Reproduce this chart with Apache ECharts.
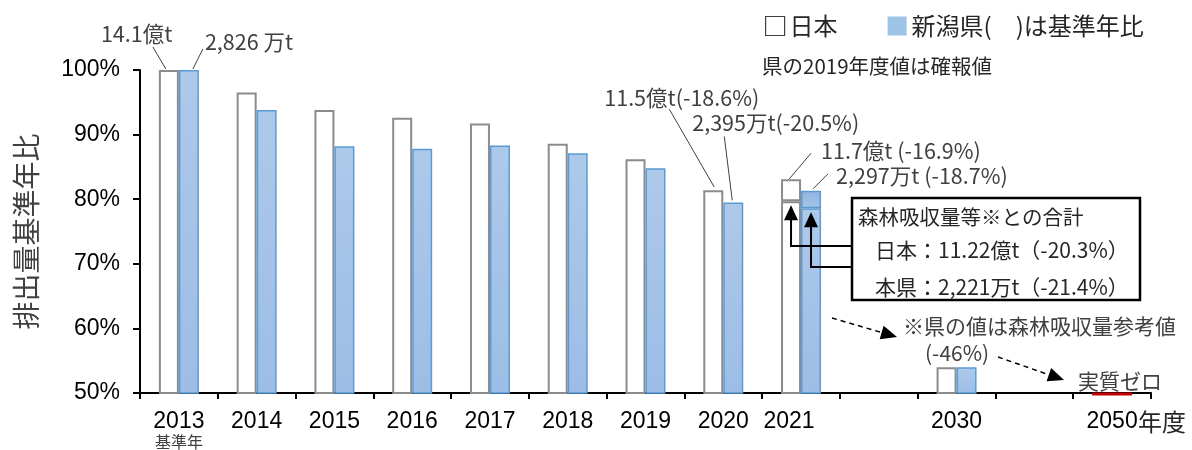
<!DOCTYPE html>
<html>
<head>
<meta charset="utf-8">
<script src="https://cdn.jsdelivr.net/npm/echarts@6/dist/echarts.min.js"></script>
<style>
html, body { margin: 0; padding: 0; background: #fff; }
#main { width: 1192px; height: 450px; }
</style>
</head>
<body>
<div id="main"></div>
<script>
// 年度(空欄は間隔用)
const years = ['2013', '2014', '2015', '2016', '2017', '2018', '2019', '2020', '2021', '', '2030', '', '2050'];
// 基準年比(%)
const japanRatio = [100, 96.5, 93.8, 92.6, 91.7, 88.6, 86.2, 81.4, 83.1, null, 54, null, null];
const niigataRatio = [100, 93.8, 88.2, 87.8, 88.3, 87.1, 84.8, 79.5, 81.3, null, 54, null, null];
// 森林吸収量等との合計
const japanNetRatio = [null, null, null, null, null, null, null, null, 79.7, null, null, null, null];
const niigataNetRatio = [null, null, null, null, null, null, null, null, 78.6, null, null, null, null];
// 実質ゼロ
const netZeroRatio = [null, null, null, null, null, null, null, null, null, null, null, null, 0];
// y軸
const yMin = 50, yMax = 100, yStep = 10;

// 吹き出し
const calloutYear = [0, 0, 7, 7, 8, 8];
const calloutSide = ['jp', 'nt', 'jp', 'nt', 'jp', 'nt'];
const calloutText = ['14.1億t', '2,826 万t', '11.5億t(-18.6%)', '2,395万t(-20.5%)', '11.7億t (-16.9%)', '2,297万t (-18.7%)'];

const JP = '"Noto Sans CJK JP", sans-serif';
const EN = '"Liberation Sans", Arial, sans-serif';
const BAR_W = 20;

// 吹き出しの位置(棒の上端中央からのずれ)
const calloutLayout = [
    { tx: -68, ty: -36, sx: -16, sy: -23, ex: -3, ey: -1 },
    { tx: 16, ty: -28, sx: 14, sy: -21, ex: 4, ey: -1 },
    { tx: -109, ty: -92, sx: -44, sy: -81, ex: 1, ey: -3 },
    { tx: -41, ty: -80, sx: -9, sy: -66, ex: -1, ey: -2 },
    { tx: 30, ty: -28, sx: 20, sy: -26, ex: -2, ey: 0 },
    { tx: 25, ty: -15, sx: 17, sy: -17, ex: 2, ey: -2 }
];
const BOX = { x: 852, y: 198, w: 288, h: 102 };
const arrowRowY = [246, 267];

// 2021は森林吸収分で棒を分割
const jpBase = japanRatio.map((v, i) => japanNetRatio[i] != null ? japanNetRatio[i] : v);
const jpTop = japanRatio.map((v, i) => japanNetRatio[i] != null ? +(v - japanNetRatio[i]).toFixed(1) : null);
const ntBase = niigataRatio.map((v, i) => niigataNetRatio[i] != null ? niigataNetRatio[i] : v);
const ntTop = niigataRatio.map((v, i) => niigataNetRatio[i] != null ? +(v - niigataNetRatio[i]).toFixed(1) : null);

const blueFill = new echarts.graphic.LinearGradient(0, 0, 0, 1, [
    { offset: 0, color: '#adc9ea' }, { offset: 1, color: '#9dbde6' }
]);
const blueTopFill = new echarts.graphic.LinearGradient(0, 0, 0, 1, [
    { offset: 0, color: '#8fb3e1' }, { offset: 1, color: '#a6c4e8' }
]);
const jpStyle = { color: '#fff', borderColor: '#8c8c8c', borderWidth: 2 };
const ntStyle = { color: blueFill, borderColor: '#5b9bd5', borderWidth: 1.5 };

function arrowHead(x1, y1, x2, y2, len, half) {
    const d = Math.hypot(x2 - x1, y2 - y1);
    const ux = (x2 - x1) / d, uy = (y2 - y1) / d;
    const bx = x2 - ux * len, by = y2 - uy * len;
    return [[x2, y2], [bx - uy * half, by + ux * half], [bx + uy * half, by - ux * half]];
}

function dashedArrow(x1, y1, x2, y2) {
    const d = Math.hypot(x2 - x1, y2 - y1);
    const ex = x2 - (x2 - x1) / d * 12, ey = y2 - (y2 - y1) / d * 12;
    return [
        { type: 'line', shape: { x1: x1, y1: y1, x2: ex, y2: ey }, style: { stroke: '#000', lineWidth: 1.5, lineDash: [5, 4] } },
        { type: 'polygon', shape: { points: arrowHead(x1, y1, x2, y2, 16, 7) }, style: { fill: '#000' } }
    ];
}

function renderCallout(params, api) { // 棒の上から吹き出し
    const i = api.value(2);
    const side = calloutSide[i] === 'jp' ? -1 : 1;
    const p = api.coord([api.value(0), api.value(1)]);
    const bx = p[0] + side * BAR_W / 2, by = p[1];
    const L = calloutLayout[i];
    return {
        type: 'group',
        children: [
            { type: 'line', shape: { x1: bx + L.sx, y1: by + L.sy, x2: bx + L.ex, y2: by + L.ey }, style: { stroke: '#404040', lineWidth: 1 } },
            { type: 'text', style: { text: calloutText[i], x: bx + L.tx, y: by + L.ty, fill: '#404040', font: '21.5px ' + JP, verticalAlign: 'middle' } }
        ]
    };
}

function renderArrow(params, api) { // 合計の枠から矢印
    const k = api.value(2);
    const side = k === 0 ? -1 : 1;
    const p = api.coord([api.value(0), api.value(1)]);
    const bx = p[0] + side * BAR_W / 2;
    const tip = p[1] + 4;
    const rowY = arrowRowY[k];
    return {
        type: 'group',
        children: [
            { type: 'polyline', shape: { points: [[BOX.x, rowY], [bx, rowY], [bx, tip + 12]] }, style: { stroke: '#000', lineWidth: 2, fill: null } },
            { type: 'polygon', shape: { points: [[bx, tip], [bx - 7, tip + 15], [bx + 7, tip + 15]] }, style: { fill: '#000' } }
        ]
    };
}

function renderZero(params, api) { // 実質ゼロの赤線
    const p = api.coord([api.value(0), yMin]);
    return { type: 'line', shape: { x1: p[0] - BAR_W, y1: p[1] + 1, x2: p[0] + BAR_W, y2: p[1] + 1 }, style: { stroke: '#c00000', lineWidth: 3 } };
}

const calloutData = calloutYear.map((c, i) => [c, (calloutSide[i] === 'jp' ? japanRatio : niigataRatio)[c], i]);
const arrowData = [];
japanNetRatio.forEach((v, i) => { if (v != null) arrowData.push([i, v, 0]); });
niigataNetRatio.forEach((v, i) => { if (v != null) arrowData.push([i, v, 1]); });
const zeroData = [];
netZeroRatio.forEach((v, i) => { if (v != null) zeroData.push([i, v]); });

const chart = echarts.init(document.getElementById('main'));

chart.setOption({
    animation: false,
    grid: { left: 140, right: 41, top: 70, bottom: 55 },
    legend: {
        left: 760,
        top: 9,
        icon: 'rect',
        itemWidth: 19,
        itemHeight: 19,
        itemGap: 50,
        selectedMode: false,
        textStyle: { fontFamily: JP, fontSize: 24, color: '#262626' },
        data: [
            { name: '日本', itemStyle: { color: '#fff', borderColor: '#404040', borderWidth: 1.2 } },
            { name: '新潟県(\u3000)は基準年比', itemStyle: { color: '#9dc3e6', borderWidth: 0 } }
        ]
    },
    xAxis: {
        type: 'category',
        data: years.map(y => y === '2021' ? { value: y, textStyle: { padding: [0, 24, 0, 0] } } : y),
        axisLine: { lineStyle: { color: '#000', width: 2 } },
        axisTick: { show: true, interval: 0, length: 6, lineStyle: { color: '#000', width: 2 } },
        axisLabel: {
            interval: 0,
            margin: 17,
            color: '#000',
            fontFamily: EN,
            fontSize: 23,
            formatter: v => v === '2013' ? '2013\n{s|基準年}' : v,
            rich: { s: { fontFamily: JP, fontSize: 16, lineHeight: 18, color: '#404040' } }
        },
        splitLine: { show: false }
    },
    yAxis: {
        type: 'value',
        min: yMin,
        max: yMax,
        interval: yStep,
        axisLine: { show: true, lineStyle: { color: '#000', width: 2 } },
        axisTick: { show: true, length: 7, lineStyle: { color: '#000', width: 2 } },
        axisLabel: { margin: 20, color: '#000', fontFamily: EN, fontSize: 23, formatter: '{value}%' },
        splitLine: { show: false },
        name: '排出量基準年比',
        nameLocation: 'middle',
        nameGap: 100,
        nameRotate: 90,
        nameTextStyle: { fontFamily: JP, fontSize: 28, color: '#404040' }
    },
    series: [
        { name: '日本', type: 'bar', stack: 'jp', barWidth: BAR_W, barGap: '0%', data: jpBase, itemStyle: jpStyle },
        { name: '日本', type: 'bar', stack: 'jp', barWidth: BAR_W, barGap: '0%', data: jpTop, itemStyle: jpStyle },
        { name: '新潟県(\u3000)は基準年比', type: 'bar', stack: 'nt', barWidth: BAR_W, barGap: '0%', data: ntBase, itemStyle: ntStyle },
        { name: '新潟県(\u3000)は基準年比', type: 'bar', stack: 'nt', barWidth: BAR_W, barGap: '0%', data: ntTop, itemStyle: { color: blueTopFill, borderColor: '#5b9bd5', borderWidth: 1.5 } },
        { type: 'custom', renderItem: renderCallout, data: calloutData, z: 5, silent: true },
        { type: 'custom', renderItem: renderArrow, data: arrowData, z: 6, silent: true },
        { type: 'custom', renderItem: renderZero, data: zeroData, z: 6, silent: true, clip: false }
    ],
    graphic: [
        { type: 'text', x: 762, y: 66, style: { text: '県の2019年度値は確報値', font: '20.5px ' + JP, fill: '#262626', verticalAlign: 'middle' } },
        { type: 'rect', shape: { x: BOX.x, y: BOX.y, width: BOX.w, height: BOX.h }, style: { fill: '#fff', stroke: '#000', lineWidth: 2.5 }, z: 4 },
        { type: 'text', x: 858, y: 217, style: { text: '森林吸収量等※との合計', font: '20.5px ' + JP, fill: '#262626', verticalAlign: 'middle' }, z: 5 },
        { type: 'text', x: 875, y: 250, style: { text: '日本：11.22億t（-20.3%）', font: '21px ' + JP, fill: '#262626', verticalAlign: 'middle' }, z: 5 },
        { type: 'text', x: 875, y: 287, style: { text: '本県：2,221万t（-21.4%）', font: '21px ' + JP, fill: '#262626', verticalAlign: 'middle' }, z: 5 },
        { type: 'text', x: 903, y: 326, style: { text: '※県の値は森林吸収量参考値', font: '21px ' + JP, fill: '#404040', verticalAlign: 'middle' } },
        { type: 'text', x: 925, y: 353, style: { text: '(-46%)', font: '21px ' + JP, fill: '#404040', verticalAlign: 'middle' } },
        { type: 'text', x: 1078, y: 381, style: { text: '実質ゼロ', font: '21px ' + JP, fill: '#404040', verticalAlign: 'middle' } },
        { type: 'text', x: 1138, y: 422, style: { text: '年度', font: '24px ' + JP, fill: '#262626', verticalAlign: 'middle' } },
        { type: 'group', children: dashedArrow(832, 318, 897, 337).concat(dashedArrow(998, 357, 1064, 380)) }
    ]
});
</script>
</body>
</html>
